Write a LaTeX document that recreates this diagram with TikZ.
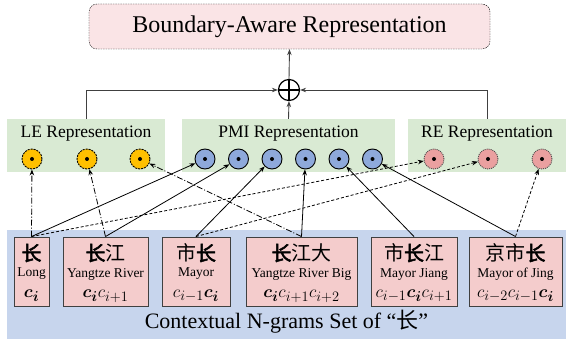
\documentclass[tikz,border=0pt]{standalone}
\usepackage{amsmath,bm}
\usepackage{fontspec}
\setmainfont{Liberation Serif}
\newfontfamily\cjk{Noto Sans CJK SC}
\newfontfamily\cjkbf[FakeBold=2.5]{Noto Sans CJK SC}
\usepackage{tikz}
\usetikzlibrary{arrows.meta}
\definecolor{toppink}{RGB}{250,228,230}
\definecolor{repgreen}{RGB}{217,234,211}
\definecolor{setblue}{RGB}{199,213,237}
\definecolor{grampink}{RGB}{244,204,204}
\definecolor{leorange}{RGB}{255,192,0}
\definecolor{pmiblue}{RGB}{142,169,219}
\definecolor{repink}{RGB}{234,160,160}
\definecolor{linegray}{RGB}{64,64,64}

\begin{document}
\begin{tikzpicture}[x=1pt,y=-1pt,>={Stealth[length=6pt,width=4.5pt]}]
  \tikzstyle{repbox}=[fill=repgreen,minimum height=53pt,inner sep=0pt]
  \tikzstyle{ngram}=[draw=black!75,line width=0.9pt,fill=grampink,minimum height=69pt,inner sep=0pt]
  \tikzstyle{dotnode}=[circle,minimum size=20pt,inner sep=0pt,line width=0.9pt]
  \tikzstyle{lecirc}=[dotnode,draw,fill=leorange,dash pattern=on 2pt off 1pt]
  \tikzstyle{pmicirc}=[dotnode,draw,fill=pmiblue]
  \tikzstyle{recirc}=[dotnode,draw=black!70,fill=repink,dash pattern=on 1pt off 1pt]
  \tikzstyle{leline}=[dash pattern=on 6pt off 2pt on 1pt off 2pt]
  \tikzstyle{reline}=[dash pattern=on 3pt off 2pt]
  \useasboundingbox (0,0) rectangle (566,342);

  % output and sum
  \node[draw,dash pattern=on 1.5pt off 1pt,rounded corners=8pt,fill=toppink,
    minimum width=401pt,minimum height=45pt,font=\fontsize{24}{28}\selectfont] (bar) at (289.5,26.5) {Boundary-Aware Representation};
  \node[circle,draw,line width=1.2pt,minimum size=21pt,inner sep=0pt] (sum) at (289,90) {};
  \draw[line width=1.2pt] (sum.north) -- (sum.south) (sum.west) -- (sum.east);

  % representations
  \node[repbox,minimum width=158pt] (le) at (86,145.5) {};
  \node[repbox,minimum width=213pt] (pmi) at (288.5,145.5) {};
  \node[repbox,minimum width=158pt] (re) at (487,145.5) {};
  \foreach \x/\xtext in {86/LE, 288.5/PMI, 487/RE}
    \node[font=\fontsize{17.5}{20}\selectfont] at (\x,134) {\xtext\ Representation};
  \begin{scope}[draw=linegray,line width=0.9pt]
    \draw[->] (le.north) |- (sum.west);
    \draw[->] (re.north) |- (sum.east);
    \draw[->] (pmi.north) -- (sum.south);
    \draw[->] (sum.north) -- (bar.south);
  \end{scope}
  \foreach \x/\xname in {32/le1, 87/le2, 140/le3}
    {\node[lecirc] (\xname) at (\x,159) {};
     \fill (\xname) circle (2pt);}
  \foreach \x/\xname in {205/pmi1, 238.5/pmi2, 272/pmi3, 305.5/pmi4, 339/pmi5, 372.5/pmi6}
    {\node[pmicirc] (\xname) at (\x,159) {};
     \fill (\xname) circle (2pt);}
  \foreach \x/\xname in {434/re1, 488/re2, 542/re3}
    {\node[recirc] (\xname) at (\x,159) {};
     \fill (\xname) circle (2pt);}

  % n-grams
  \node[fill=setblue,minimum width=559pt,minimum height=109pt,inner sep=0pt] (set) at (286.5,284.5) {};
  \node[font=\fontsize{22}{26}\selectfont] at (286.5,322) {Contextual N-grams Set of “{\cjk 长}”};
  \foreach \x/\w/\zh/\en/\cc/\xname in {
      31.5/35/{\cjkbf 长}/Long/{\bm{c_i}}/n1,
      105.5/85/{{\cjkbf 长}江}/Yangtze River/{\bm{c_i}c_{i+1}}/n2,
      196/68/{市{\cjkbf 长}}/Mayor/{c_{i-1}\bm{c_i}}/n3,
      301.5/111/{{\cjkbf 长}江大}/Yangtze River Big/{\bm{c_i}c_{i+1}c_{i+2}}/n4,
      414/86/{市{\cjkbf 长}江}/Mayor Jiang/{c_{i-1}\bm{c_i}c_{i+1}}/n5,
      515.5/93/{京市{\cjkbf 长}}/Mayor of Jing/{c_{i-2}c_{i-1}\bm{c_i}}/n6}
    {\node[ngram,minimum width=\w pt] (\xname) at (\x,271.5) {};
     \node[font=\cjk\fontsize{20}{22}\selectfont] at (\x,253) {\zh};
     \node[font=\fontsize{13.5}{15}\selectfont] at (\x,274) {\en};
     \node[font=\fontsize{19}{22}\selectfont] at (\x,296) {$\cc$};}

  % connectors
  \begin{scope}[line width=0.8pt]
    \draw[leline,->] (n1.north) -- (le1);
    \draw[leline,->] (n2.north) -- (le2);
    \draw[leline,->] (n4.north) -- (le3);
    \foreach \a/\b in {n1/pmi1, n2/pmi2, n3/pmi3, n4/pmi4, n5/pmi5, n6/pmi6}
      \draw[->] (\a.north) -- (\b);
    \draw[reline,->] (n1.north) -- (re1);
    \draw[reline,->] (n3.north) -- (re2);
    \draw[reline,->] (n6.north) -- (re3);
  \end{scope}
\end{tikzpicture}
\end{document}
